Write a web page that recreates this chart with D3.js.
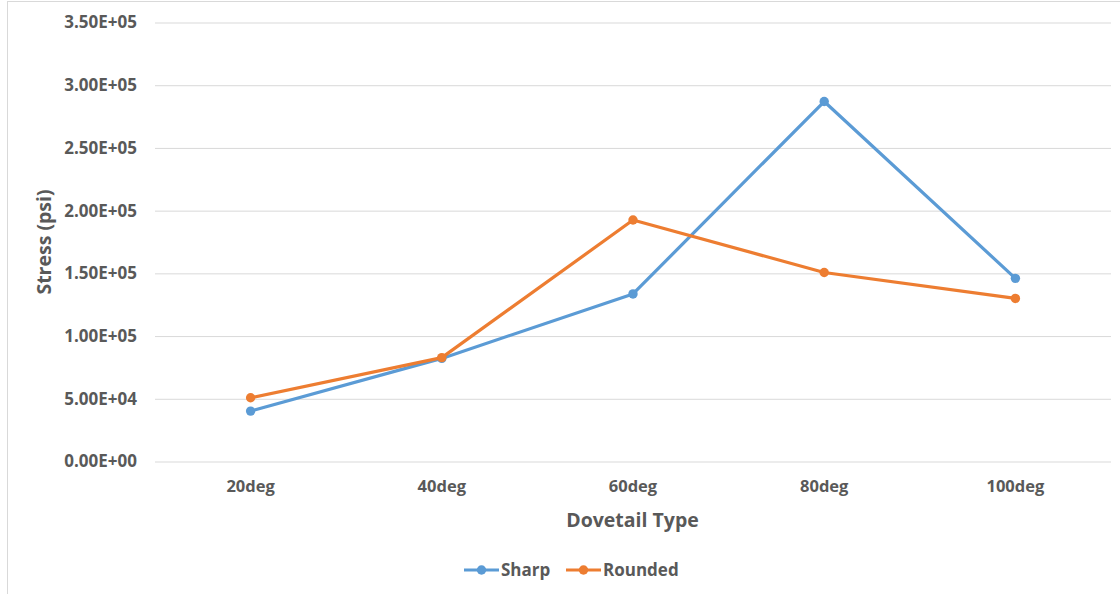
<!DOCTYPE html>
<html>
<head>
<meta charset="utf-8">
<script src="https://cdn.jsdelivr.net/npm/d3@7"></script>
<style>
  html, body { margin: 0; padding: 0; background: #fff; }
  svg { display: block; }
  text { font-family: "Open Sans", Lato, sans-serif; font-weight: bold; fill: #595959; }
</style>
</head>
<body>
<svg id="chart" width="1120" height="594"></svg>
<script>
// Dovetail angle categories
const categories = ["20deg", "40deg", "60deg", "80deg", "100deg"];
// Peak stress (psi) for each dovetail geometry
const sharp   = [40200, 82200, 133600, 287000, 146000];
const rounded = [50800, 82800, 192500, 150700, 130000];
const yTicks  = [0, 50000, 100000, 150000, 200000, 250000, 300000, 350000];

const series = [
  { name: "Sharp",   values: sharp,   color: "#5B9BD5" },
  { name: "Rounded", values: rounded, color: "#ED7D31" }
];

const svg = d3.select("#chart");
const W = 1120, H = 594;
const margin = { left: 155, right: 9, top: 22, bottom: 133 };
const FONT = "'Open Sans', Lato, sans-serif";

// outer chart frame
svg.append("rect")
  .attr("x", 7.5).attr("y", 1.5)
  .attr("width", W - 7).attr("height", H + 10)
  .attr("fill", "none").attr("stroke", "#d9d9d9").attr("stroke-width", 1);

const x = d3.scaleBand()
  .domain(categories)
  .range([margin.left, W - margin.right]);

const y = d3.scaleLinear()
  .domain([0, 350000])
  .range([H - margin.bottom + 0.5, margin.top + 0.5]);

const fmt = v => {
  const e = v === 0 ? 0 : Math.floor(Math.log10(v));
  const m = v / Math.pow(10, e);
  return m.toFixed(2) + "E+" + String(e).padStart(2, "0");
};

// horizontal gridlines + y tick labels
const yAxis = d3.axisLeft(y).tickValues(yTicks).tickFormat(fmt)
  .tickSize(-(W - margin.right - margin.left)).tickPadding(18);
const gy = svg.append("g")
  .attr("transform", `translate(${margin.left},0)`)
  .call(yAxis);
gy.select(".domain").remove();
gy.selectAll(".tick line").attr("stroke", "#d9d9d9").attr("stroke-width", 1);
gy.selectAll(".tick text")
  .style("font-size", "17px").attr("fill", "#595959")
  .style("font-family", FONT).style("font-weight", "bold");

// x category labels
const xAxis = d3.axisBottom(x).tickSize(0).tickPadding(19);
const gx = svg.append("g")
  .attr("transform", `translate(0,${y(0)})`)
  .call(xAxis);
gx.select(".domain").remove();
gx.selectAll(".tick text")
  .style("font-size", "16.5px").attr("fill", "#595959")
  .style("font-family", FONT).style("font-weight", "bold");

// axis titles
svg.append("text")
  .attr("x", (margin.left + W - margin.right) / 2 - 0.5)
  .attr("y", 527)
  .attr("text-anchor", "middle")
  .style("font-size", "19.5px")
  .text("Dovetail Type");

svg.append("text")
  .attr("transform", `translate(51,${(y(0) + y(350000)) / 2}) rotate(-90)`)
  .attr("text-anchor", "middle")
  .style("font-size", "19.5px")
  .text("Stress (psi)");

// series lines and markers
const line = d3.line()
  .x((d, i) => x(categories[i]) + x.bandwidth() / 2)
  .y(d => y(d));

series.forEach(s => {
  const g = svg.append("g");
  g.append("path")
    .datum(s.values)
    .attr("d", line)
    .attr("fill", "none")
    .attr("stroke", s.color)
    .attr("stroke-width", 3.2)
    .attr("stroke-linejoin", "round")
    .attr("stroke-linecap", "round");
  g.selectAll("circle")
    .data(s.values)
    .join("circle")
    .attr("cx", (d, i) => x(categories[i]) + x.bandwidth() / 2)
    .attr("cy", d => y(d))
    .attr("r", 4.7)
    .attr("fill", s.color);
});

// legend
const legendY = 570;
const legendItems = [
  { s: series[0], x0: 464 },
  { s: series[1], x0: 566 }
];
legendItems.forEach(({ s, x0 }) => {
  const g = svg.append("g");
  g.append("line")
    .attr("x1", x0).attr("x2", x0 + 35)
    .attr("y1", legendY).attr("y2", legendY)
    .attr("stroke", s.color).attr("stroke-width", 3.2);
  g.append("circle")
    .attr("cx", x0 + 17.5).attr("cy", legendY).attr("r", 4.7)
    .attr("fill", s.color);
  g.append("text")
    .attr("x", x0 + 37).attr("y", legendY + 6)
    .style("font-size", "17px")
    .text(s.name);
});
</script>
</body>
</html>
